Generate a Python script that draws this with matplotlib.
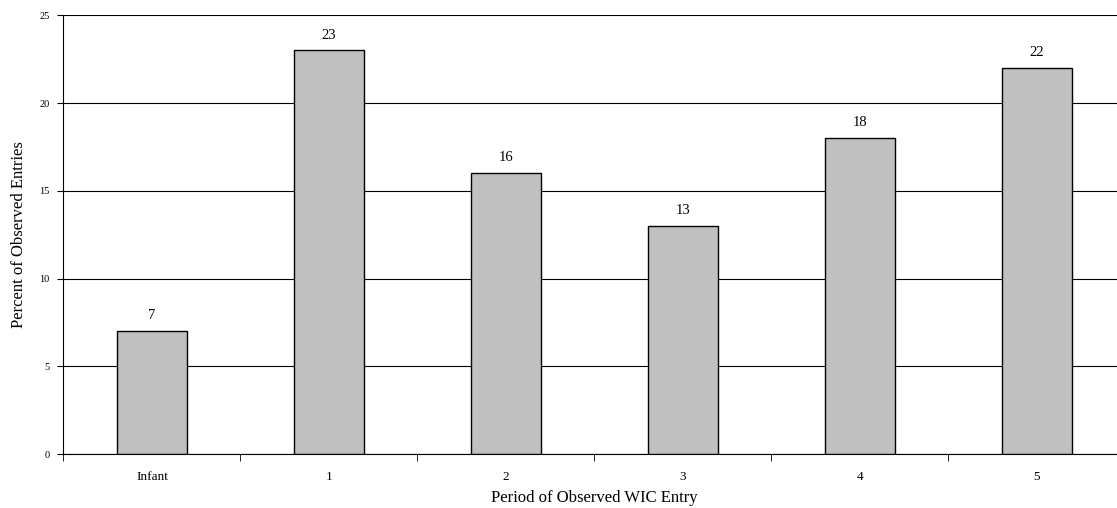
import matplotlib
matplotlib.use("Agg")
import matplotlib.pyplot as plt
import numpy as np

categories = ["Infant", "1", "2", "3", "4", "5"]
percents = [7, 23, 16, 13, 18, 22]

plt.rcParams["font.family"] = ["Liberation Serif", "DejaVu Serif"]

fig = plt.figure(figsize=(11.17, 5.08), dpi=100)
ax = fig.add_axes([0.0568, 0.106, 0.9508, 0.864])

x = np.arange(len(categories))
ax.bar(x, percents, width=0.4, color="#c0c0c0", edgecolor="black", linewidth=1.0, zorder=3)
for xi, v in zip(x, percents):
    ax.text(xi, v + 0.5, str(v), ha="center", va="bottom", fontsize=10.5)

ax.set_xlim(-0.5, len(categories) - 0.5)
ax.set_ylim(0, 25)
ax.set_yticks(np.arange(0, 26, 5))
ax.yaxis.grid(True, color="black", linewidth=0.8, zorder=0)
ax.set_axisbelow(True)

ax.set_xticks(x)
ax.set_xticklabels(categories, fontsize=9.5)
ax.set_xticks(np.arange(-0.5, len(categories), 1), minor=True)
ax.tick_params(axis="x", which="major", length=0, pad=12)
ax.tick_params(axis="x", which="minor", length=5, direction="out")
ax.tick_params(axis="y", labelsize=7.5, length=4, direction="out", pad=6)

for s in ["top", "right"]:
    ax.spines[s].set_visible(False)

ax.set_xlabel("Period of Observed WIC Entry", fontsize=12, labelpad=5)
ax.set_ylabel("Percent of Observed Entries", fontsize=12, labelpad=9)

fig.savefig("out.png", dpi=100)
